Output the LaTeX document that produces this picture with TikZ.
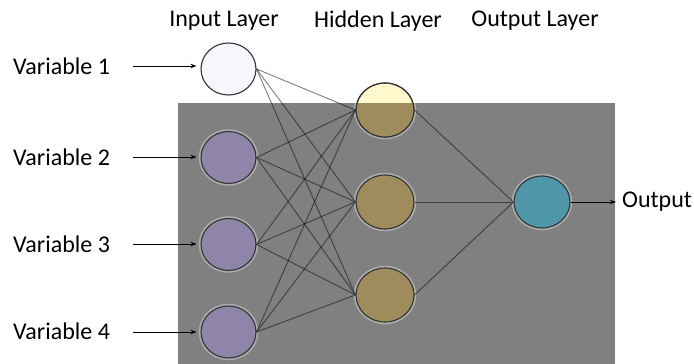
\documentclass[tikz,border=0pt]{standalone}
\usepackage{fontspec}
\setmainfont{Carlito}
\usetikzlibrary{shapes.geometric,arrows.meta}

\definecolor{panelgray}{HTML}{808080}
\definecolor{inlight}{HTML}{F8F5FC}
\definecolor{indark}{HTML}{8E85A8}
\definecolor{hidlight}{HTML}{FFF8CD}
\definecolor{hiddark}{HTML}{9E8C5C}
\definecolor{outteal}{HTML}{4E96A8}
\definecolor{rim}{HTML}{333333}

\tikzset{
  neuron/.style={ellipse, draw=rim, line width=1.1pt, inner sep=0pt,
    preaction={draw=white, draw opacity=0.35, line width=4.5pt}},
  inneuron/.style={neuron, minimum width=55pt, minimum height=52pt},
  hidneuron/.style={neuron, minimum width=58pt, minimum height=54pt},
  outneuron/.style={neuron, minimum width=56pt, minimum height=52pt, fill=outteal},
  link/.style={draw=black, draw opacity=0.5, line width=0.9pt},
  feed/.style={draw=black, line width=0.8pt, -{Stealth[length=6pt,width=4.5pt]}},
  lbl/.style={font=\fontsize{24}{28}\selectfont, inner sep=0pt},
}

\begin{document}
\begin{tikzpicture}[x=1pt, y=-1pt]
  \useasboundingbox (0,0) rectangle (694,364);
  \fill[white] (0,0) rectangle (694,364);
  % shaded panel behind the network
  \fill[panelgray] (178,103) rectangle (615,364);

  % column headings
  \node[lbl] (tin)  at (224,21) {Input Layer};
  \node[lbl] (thid) at (378,21) {Hidden Layer};
  \node[lbl] (tout) at (535,21) {Output Layer};

  % neurons
  \node[inneuron, fill=inlight] (i1) at (228.5,69) {};
  \node[inneuron, fill=indark]  (i2) at (228.5,157.5) {};
  \node[inneuron, fill=indark]  (i3) at (228.5,244.5) {};
  \node[inneuron, fill=indark]  (i4) at (228.5,332) {};

  \node[hidneuron, fill=hidlight] (h1) at (385,110) {};
  \node[hidneuron, fill=hiddark]  (h2) at (385,202) {};
  \node[hidneuron, fill=hiddark]  (h3) at (385,295) {};

  % lower part of the first hidden neuron lies on the panel
  \begin{scope}
    \clip (178,103) rectangle (615,364);
    \fill[hiddark] (h1.center) ellipse [x radius=29pt, y radius=27pt];
  \end{scope}
  \draw[rim, line width=1.1pt] (h1.center) ellipse [x radius=29pt, y radius=27pt];

  \node[outneuron] (o) at (542,202) {};

  % fully connected links
  \foreach \a in {i1,i2,i3,i4}
    \foreach \b in {h1,h2,h3}
      \draw[link] (\a.east) -- (\b.west);
  \foreach \b in {h1,h2,h3}
    \draw[link] (\b.east) -- (o.west);

  % input labels and arrows
  \node[lbl, anchor=west] (v1) at (13,66) {Variable 1};
  \node[lbl, anchor=west] (v2) at (13,157) {Variable 2};
  \node[lbl, anchor=west] (v3) at (13,244) {Variable 3};
  \node[lbl, anchor=west] (v4) at (13,331) {Variable 4};
  \coordinate (s1) at (133,66);
  \coordinate (s2) at (133,157);
  \coordinate (s3) at (133,244);
  \coordinate (s4) at (133,332);
  \draw[feed] (s1) -- ([xshift=-4pt]i1.west |- s1);
  \draw[feed] (s2) -- ([xshift=-4pt]i2.west |- s2);
  \draw[feed] (s3) -- ([xshift=-4pt]i3.west |- s3);
  \draw[feed] (s4) -- ([xshift=-4pt]i4.west |- s4);

  % output arrow and label
  \node[lbl, anchor=west] (res) at (622,202) {Output};
  \draw[feed] (o.east) -- ([xshift=-6pt]res.west);
\end{tikzpicture}
\end{document}
